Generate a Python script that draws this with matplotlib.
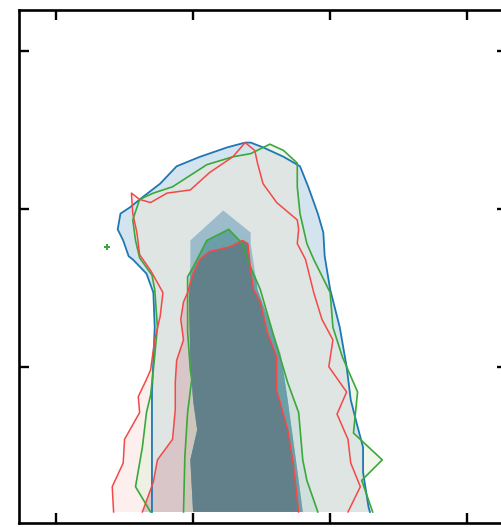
import numpy as np
import matplotlib
matplotlib.use("Agg")
import matplotlib.pyplot as plt
from matplotlib.patches import Polygon

# contour boundaries (2D marginal of three chains), in parameter units
# blue chain, outer level
blue_out_x = [0.70, 0.70, 0.70, 0.70, 0.71, 0.72, 0.71, 0.66, 0.56, 0.53, 0.49, 0.45, 0.47, 0.54, 0.64, 0.76, 0.88, 1.05, 1.25,
              1.38, 1.42, 1.51, 1.66, 1.78, 1.84, 1.91, 1.95, 1.96, 2.00, 2.07, 2.12, 2.15, 2.20, 2.24, 2.24, 2.28, 2.29]
blue_out_y = [0.08, 0.41, 0.62, 0.84, 1.04, 1.25, 1.47, 1.59, 1.68, 1.70, 1.80, 1.87, 1.97, 2.01, 2.08, 2.16, 2.27, 2.33, 2.39,
              2.42, 2.42, 2.39, 2.33, 2.27, 2.14, 1.97, 1.85, 1.70, 1.49, 1.25, 1.00, 0.79, 0.62, 0.49, 0.33, 0.11, 0.08]
# blue chain, inner level
blue_in_x = [1.00, 0.98, 1.03, 1.00, 0.98, 0.97, 0.98, 0.98, 1.22, 1.42, 1.42, 1.47, 1.55, 1.64, 1.69, 1.75, 1.80]
blue_in_y = [0.08, 0.41, 0.60, 0.79, 1.04, 1.42, 1.66, 1.80, 1.99, 1.85, 1.78, 1.49, 1.30, 1.08, 0.79, 0.41, 0.08]

# green chain
green_out_x = [0.69, 0.58, 0.63, 0.66, 0.69, 0.71, 0.74, 0.72, 0.70, 0.61, 0.58, 0.56, 0.61, 0.71, 0.85, 1.10, 1.29, 1.42, 1.56,
               1.66, 1.76, 1.76, 1.78, 1.83, 1.88, 2.00, 2.02, 2.09, 2.20, 2.17, 2.38, 2.23, 2.31]
green_out_y = [0.08, 0.24, 0.49, 0.71, 0.82, 0.98, 1.25, 1.49, 1.58, 1.69, 1.80, 1.93, 2.06, 2.10, 2.14, 2.28, 2.33, 2.35, 2.41,
               2.37, 2.29, 2.14, 1.97, 1.78, 1.68, 1.47, 1.25, 1.06, 0.84, 0.58, 0.41, 0.28, 0.08]
green_in_x = [0.93, 0.94, 0.96, 0.99, 0.98, 0.96, 0.96, 0.96, 1.00, 1.10, 1.26, 1.36, 1.42, 1.49, 1.58, 1.69, 1.77, 1.80, 1.83, 1.91]
green_in_y = [0.08, 0.43, 0.71, 0.92, 0.98, 1.22, 1.42, 1.57, 1.63, 1.80, 1.87, 1.78, 1.63, 1.49, 1.22, 0.90, 0.71, 0.41, 0.28, 0.08]

# red chain
red_out_x = [0.42, 0.41, 0.49, 0.50, 0.61, 0.60, 0.66, 0.69, 0.72, 0.76, 0.78, 0.69, 0.61, 0.59, 0.56, 0.55, 0.61, 0.69, 0.81, 0.98,
             1.12, 1.29, 1.38, 1.45, 1.47, 1.51, 1.61, 1.76, 1.77, 1.76, 1.82, 1.88, 1.94, 2.02, 1.99, 2.12, 2.05, 2.13, 2.15, 2.22, 2.13]
red_out_y = [0.08, 0.24, 0.39, 0.54, 0.71, 0.81, 0.92, 0.98, 1.17, 1.32, 1.47, 1.61, 1.71, 1.85, 1.97, 2.10, 2.06, 2.04, 2.10, 2.12,
             2.23, 2.33, 2.42, 2.37, 2.29, 2.16, 2.04, 1.93, 1.87, 1.78, 1.68, 1.47, 1.30, 1.17, 1.00, 0.84, 0.70, 0.54, 0.39, 0.24, 0.08]
red_in_x = [0.63, 0.71, 0.74, 0.85, 0.87, 0.87, 0.88, 0.93, 0.91, 0.93, 0.96, 1.00, 1.05, 1.12, 1.27, 1.36, 1.40, 1.42, 1.44,
            1.49, 1.54, 1.61, 1.61, 1.69, 1.73, 1.77]
red_in_y = [0.08, 0.27, 0.41, 0.54, 0.73, 0.90, 1.04, 1.17, 1.30, 1.41, 1.47, 1.59, 1.68, 1.73, 1.76, 1.80, 1.78, 1.61, 1.49,
            1.41, 1.22, 1.06, 0.85, 0.60, 0.39, 0.08]

# stray green sample
green_pt_x = [0.37]
green_pt_y = [1.76]

fig = plt.figure(figsize=(5.01, 5.27), dpi=100)
ax = fig.add_axes([19 / 501, 4 / 527, 488 / 501, 513 / 527])


def poly(x, y):
    return Polygon(np.column_stack([x, y]), closed=True, transform=ax.transData)


def fill(x, y, color, clip=None):
    p = ax.fill(x, y, color=color, lw=0)[0]
    if clip is not None:
        p.set_clip_path(clip)
    return p


# outer levels
fill(red_out_x, red_out_y, '#fcefee')
fill(green_out_x, green_out_y, '#f0f5ea')
fill(green_out_x, green_out_y, '#eef0e4', clip=poly(red_out_x, red_out_y))
fill(blue_out_x, blue_out_y, '#d4e4ee')
fill(blue_out_x, blue_out_y, '#dfe5e2', clip=poly(green_out_x, green_out_y))

# inner levels
fill(red_in_x, red_in_y, '#d9c6c9')
fill(green_in_x, green_in_y, '#cfe0dc')
fill(green_in_x, green_in_y, '#cfc6bb', clip=poly(red_in_x, red_in_y))
fill(blue_in_x, blue_in_y, '#9cbccc')
fill(blue_in_x, blue_in_y, '#6a9fa8', clip=poly(green_in_x, green_in_y))
fill(blue_in_x, blue_in_y, '#62808a', clip=poly(red_in_x, red_in_y))

# contour lines
ax.plot(blue_out_x, blue_out_y, color='#1f77b4', lw=1.3)
ax.plot(green_out_x, green_out_y, color='#3aa83a', lw=1.2)
ax.plot(green_in_x, green_in_y, color='#3aa83a', lw=1.2)
ax.plot(red_out_x, red_out_y, color='#f44848', lw=1.1)
ax.plot(red_in_x, red_in_y, color='#f44848', lw=1.1)
ax.plot(green_pt_x, green_pt_y, 'P', color='#3aa83a', ms=4, mew=0)

ax.set_xlim(-0.27, 3.29)
ax.set_ylim(0.01, 3.26)
ax.set_xticks([0, 1, 2, 3])
ax.set_yticks([1, 2, 3])
ax.tick_params(direction='in', length=7.5, width=1.7, top=True, right=True,
               labelbottom=False, labelleft=False)
for s in ax.spines.values():
    s.set_linewidth(1.9)

plt.savefig('out.png', dpi=100)
